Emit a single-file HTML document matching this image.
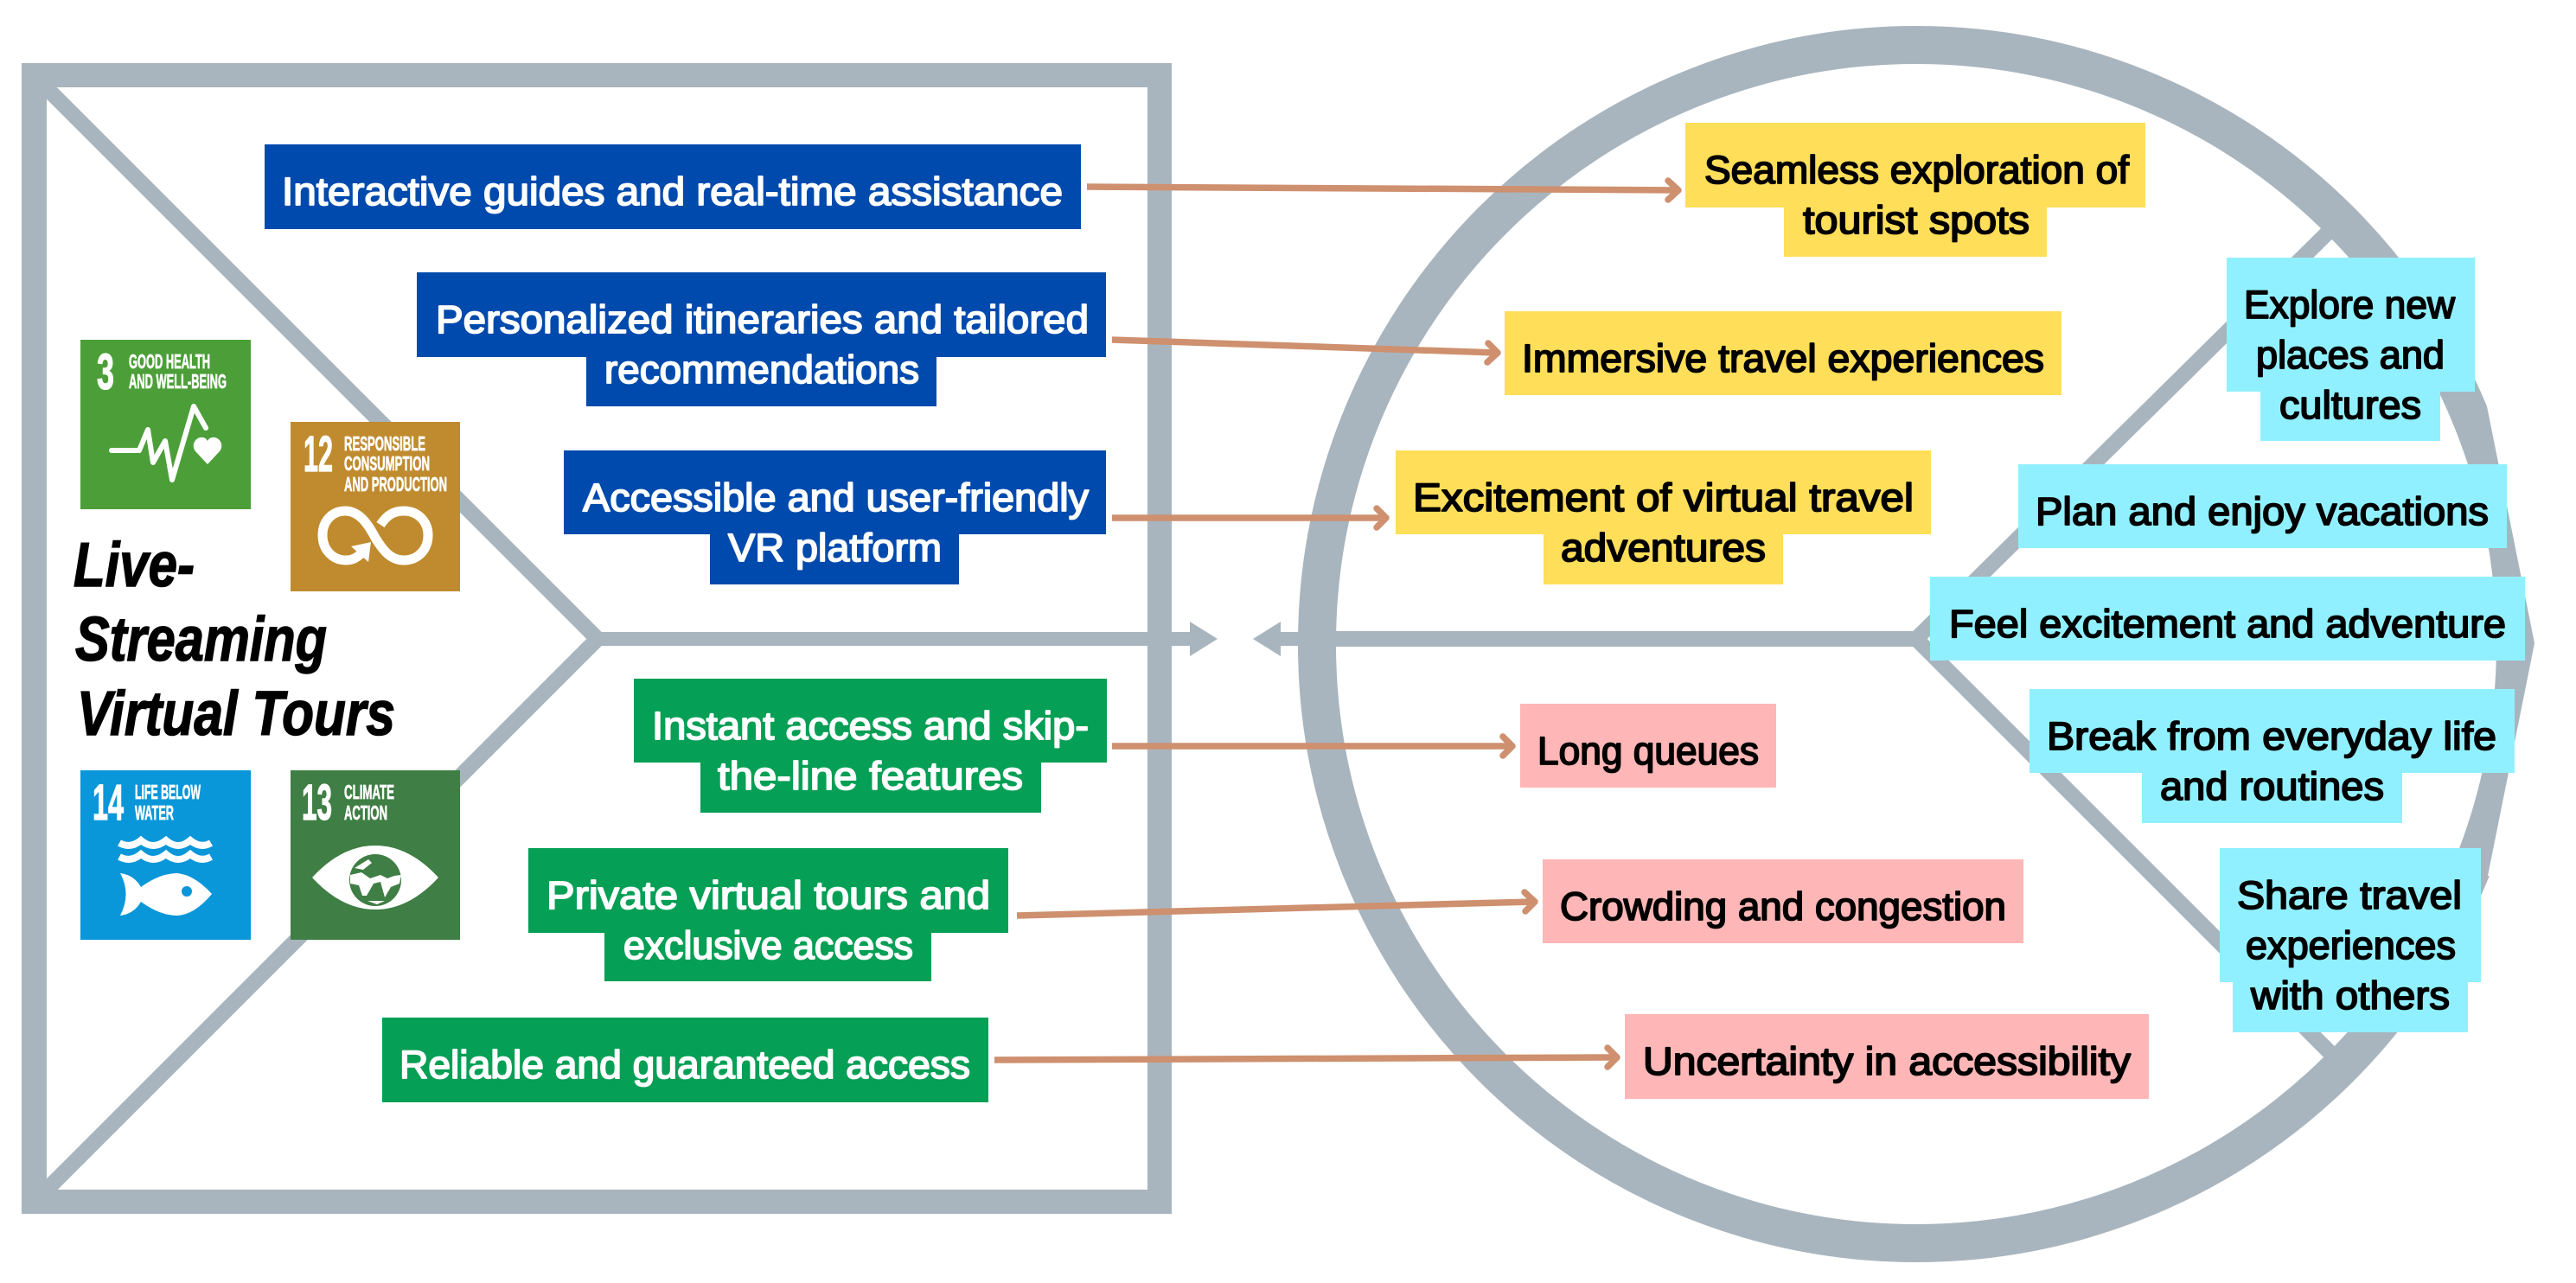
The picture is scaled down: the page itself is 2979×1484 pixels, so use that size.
<!DOCTYPE html>
<html lang="en">
<head>
<meta charset="utf-8">
<title>Live-Streaming Virtual Tours</title>
<style>
html,body{margin:0;padding:0;background:#fff;width:2979px;height:1484px;overflow:hidden}
svg{display:block;position:absolute;left:0;top:0}
.t{font-family:"Liberation Sans",sans-serif;font-size:45px;stroke-width:1.8px;stroke-linejoin:round}
.w{fill:#fff;stroke:#fff}
.k{fill:#000;stroke:#000}
.ti{font-family:"Liberation Sans",sans-serif;font-weight:bold;font-style:italic;font-size:72px;fill:#000;stroke:#000;stroke-width:1.5px}
.n{font-family:"Liberation Sans",sans-serif;font-weight:bold;font-size:58px;fill:#fff;stroke:#fff;stroke-width:1.2px}
.s{font-family:"Liberation Sans",sans-serif;font-weight:bold;font-size:23px;fill:#fff;stroke:#fff;stroke-width:.7px}
</style>
</head>
<body>
<svg xmlns="http://www.w3.org/2000/svg" width="2979" height="1484" viewBox="0 0 2979 1484">
<rect width="2979" height="1484" fill="#fff"/>

<!-- left frame -->
<path d="M25 73H1355V1404H25Z M54 101V1376H1327V101Z" fill="#A8B5BE" fill-rule="evenodd"/>
<polyline points="47,95 691,739 49,1381" fill="none" stroke="#A8B5BE" stroke-width="18" stroke-miterlimit="10"/>
<rect x="691" y="731" width="690" height="16" fill="#A8B5BE"/>
<polygon points="1376,719 1408,739 1376,759" fill="#A8B5BE"/>

<!-- right circle -->
<circle cx="2216" cy="745" r="693" fill="none" stroke="#A8B5BE" stroke-width="44"/>
<polygon points="2876,470 2931,744 2877,1013 2979,1013 2979,470" fill="#fff"/>
<polyline points="2698,263 2216,739 2700,1223" fill="none" stroke="#A8B5BE" stroke-width="18" stroke-miterlimit="10"/>
<rect x="1545" y="730" width="675" height="18" fill="#A8B5BE"/>
<rect x="1475" y="731" width="30" height="16" fill="#A8B5BE"/>
<polygon points="1481,719 1449,739 1481,759" fill="#A8B5BE"/>

<!-- SDG 3 -->
<rect x="93" y="393" width="197" height="196" fill="#4C9F38"/>
<text class="n" x="112" y="450" textLength="20" lengthAdjust="spacingAndGlyphs">3</text>
<text class="s" x="149" y="426" textLength="94" lengthAdjust="spacingAndGlyphs">GOOD HEALTH</text>
<text class="s" x="149" y="449" textLength="113" lengthAdjust="spacingAndGlyphs">AND WELL-BEING</text>
<polyline points="129,521 161,521 171,497 177,535 191,510 199,555 224,470 238,495" fill="none" stroke="#fff" stroke-width="6" stroke-linecap="round" stroke-linejoin="round"/>
<path d="M240 537 L226 522 C220 514 227 505 234 506 C237 506 239 508 240 510 C241 508 243 506 246 506 C253 505 260 514 254 522Z" fill="#fff"/>

<!-- SDG 12 -->
<rect x="336" y="488" width="196" height="196" fill="#BF8B2E"/>
<text class="n" x="351" y="545" textLength="34" lengthAdjust="spacingAndGlyphs">12</text>
<text class="s" x="398" y="521" textLength="94" lengthAdjust="spacingAndGlyphs">RESPONSIBLE</text>
<text class="s" x="398" y="544" textLength="99" lengthAdjust="spacingAndGlyphs">CONSUMPTION</text>
<text class="s" x="398" y="568" textLength="119" lengthAdjust="spacingAndGlyphs">AND PRODUCTION</text>
<path d="M440 607 C448 595 456 591 467 591 C483 591 495 603 495 619 C495 636 483 648 467 648 C452 648 443 637 434 622 C425 605 415 591 399 591 C384 591 373 603 373 619 C373 636 385 648 400 648 C408 648 413 645 420 638" fill="none" stroke="#fff" stroke-width="11"/>
<polygon points="406,632 429,627 426,650" fill="#fff"/>

<!-- SDG 14 -->
<rect x="93" y="891" width="197" height="196" fill="#0A97D9"/>
<text class="n" x="107" y="948" textLength="36" lengthAdjust="spacingAndGlyphs">14</text>
<text class="s" x="156" y="924" textLength="76" lengthAdjust="spacingAndGlyphs">LIFE BELOW</text>
<text class="s" x="156" y="948" textLength="45" lengthAdjust="spacingAndGlyphs">WATER</text>
<path d="M138 975 Q151 982 163 972 Q177 984 192 972 Q206 984 220 972 Q232 982 244 975 M138 991 Q151 998 163 988 Q177 1000 192 988 Q206 1000 220 988 Q232 998 244 991" fill="none" stroke="#fff" stroke-width="8"/>
<path d="M139 1010 Q155 1012 163 1026 Q185 1010 205 1010 Q225 1012 245 1034 Q225 1058 205 1059 Q185 1059 163 1043 Q155 1057 139 1059 Q152 1034 139 1010Z" fill="#fff"/>
<circle cx="216" cy="1031" r="6" fill="#0A97D9"/>

<!-- SDG 13 -->
<rect x="336" y="891" width="196" height="196" fill="#3F7E44"/>
<text class="n" x="349" y="948" textLength="35" lengthAdjust="spacingAndGlyphs">13</text>
<text class="s" x="398" y="924" textLength="58" lengthAdjust="spacingAndGlyphs">CLIMATE</text>
<text class="s" x="398" y="948" textLength="50" lengthAdjust="spacingAndGlyphs">ACTION</text>
<path d="M361 1015 Q395 978 434 978 Q473 978 507 1015 Q473 1052 434 1052 Q395 1052 361 1015Z" fill="#fff"/>
<circle cx="434" cy="1018" r="30" fill="#3F7E44"/>
<path d="M405 1012 L418 1009 L428 1016 L440 1012 L448 1016 L456 1013 L464 1012 L462 1022 L452 1026 L445 1038 L440 1020 L432 1022 L424 1036 L419 1036 L415 1024 L405 1022Z M410 1004 L426 994 L430 998 L420 1006Z M425 1042 L445 1042 L436 1046Z" fill="#fff"/>
<path d="M448 1032 L458 1024 L456 1034 L450 1037Z" fill="#3F7E44"/>

<!-- title -->
<text class="ti" x="85" y="678" textLength="140" lengthAdjust="spacingAndGlyphs">Live-</text>
<text class="ti" x="87" y="764" textLength="291" lengthAdjust="spacingAndGlyphs">Streaming</text>
<text class="ti" x="89" y="850" textLength="368" lengthAdjust="spacingAndGlyphs">Virtual Tours</text>

<!-- boxes -->
<g fill="#004AAD">
<rect x="306" y="167" width="944" height="98"/>
<rect x="482" y="315" width="797" height="98"/>
<rect x="678" y="373" width="405" height="97"/>
<rect x="652" y="521" width="627" height="97"/>
<rect x="821" y="579" width="288" height="97"/>
</g>
<g fill="#059F55">
<rect x="733" y="785" width="547" height="97"/>
<rect x="810" y="843" width="394" height="97"/>
<rect x="611" y="981" width="555" height="98"/>
<rect x="699" y="1039" width="378" height="96"/>
<rect x="442" y="1177" width="701" height="98"/>
</g>
<g fill="#FFDE59">
<rect x="1949" y="142" width="532" height="98"/>
<rect x="2063" y="200" width="304" height="97"/>
<rect x="1740" y="360" width="644" height="97"/>
<rect x="1614" y="521" width="619" height="97"/>
<rect x="1785" y="579" width="277" height="97"/>
</g>
<g fill="#FEB6B6">
<rect x="1758" y="814" width="296" height="97"/>
<rect x="1784" y="994" width="556" height="97"/>
<rect x="1879" y="1173" width="606" height="98"/>
</g>
<g fill="#91F0FF">
<rect x="2575" y="298" width="287" height="155"/>
<rect x="2614" y="413" width="208" height="97"/>
<rect x="2334" y="537" width="565" height="97"/>
<rect x="2232" y="667" width="688" height="97"/>
<rect x="2347" y="797" width="561" height="97"/>
<rect x="2477" y="855" width="301" height="97"/>
<rect x="2567" y="981" width="302" height="155"/>
<rect x="2582" y="1097" width="272" height="97"/>
</g>

<!-- connectors -->
<g fill="none" stroke="#CE906E" stroke-width="7.5" stroke-linecap="butt" stroke-linejoin="round">
<path d="M1257 216L1940 220"/><path d="M1286 393L1731 408"/><path d="M1286 599L1602 599"/>
<path d="M1286 863L1748 863"/><path d="M1176 1059L1774 1043"/><path d="M1150 1226L1869 1223"/>
</g>
<g fill="none" stroke="#CE906E" stroke-width="7.5" stroke-linecap="round" stroke-linejoin="round">
<polyline points="1929,209 1941,220 1929,231"/>
<polyline points="1721,397 1732,408 1720,419"/>
<polyline points="1592,588 1603,599 1592,610"/>
<polyline points="1738,852 1749,863 1738,874"/>
<polyline points="1763,1032 1775,1043 1764,1054"/>
<polyline points="1859,1212 1870,1223 1859,1234"/>
</g>

<!-- white labels -->
<text class="t w" x="326" y="237" textLength="903" lengthAdjust="spacingAndGlyphs">Interactive guides and real-time assistance</text>
<text class="t w" x="504" y="385" textLength="755" lengthAdjust="spacingAndGlyphs">Personalized itineraries and tailored</text>
<text class="t w" x="699" y="443" textLength="364" lengthAdjust="spacingAndGlyphs">recommendations</text>
<text class="t w" x="674" y="591" textLength="585" lengthAdjust="spacingAndGlyphs">Accessible and user-friendly</text>
<text class="t w" x="842" y="649" textLength="247" lengthAdjust="spacingAndGlyphs">VR platform</text>
<text class="t w" x="754" y="855" textLength="505" lengthAdjust="spacingAndGlyphs">Instant access and skip-</text>
<text class="t w" x="830" y="913" textLength="353" lengthAdjust="spacingAndGlyphs">the-line features</text>
<text class="t w" x="632" y="1051" textLength="513" lengthAdjust="spacingAndGlyphs">Private virtual tours and</text>
<text class="t w" x="721" y="1109" textLength="335" lengthAdjust="spacingAndGlyphs">exclusive access</text>
<text class="t w" x="462" y="1247" textLength="660" lengthAdjust="spacingAndGlyphs">Reliable and guaranteed access</text>

<!-- black labels -->
<text class="t k" x="1971" y="212" textLength="491" lengthAdjust="spacingAndGlyphs">Seamless exploration of</text>
<text class="t k" x="2085" y="270" textLength="262" lengthAdjust="spacingAndGlyphs">tourist spots</text>
<text class="t k" x="1760" y="430" textLength="604" lengthAdjust="spacingAndGlyphs">Immersive travel experiences</text>
<text class="t k" x="1634" y="591" textLength="579" lengthAdjust="spacingAndGlyphs">Excitement of virtual travel</text>
<text class="t k" x="1805" y="649" textLength="237" lengthAdjust="spacingAndGlyphs">adventures</text>
<text class="t k" x="1778" y="884" textLength="256" lengthAdjust="spacingAndGlyphs">Long queues</text>
<text class="t k" x="1804" y="1064" textLength="516" lengthAdjust="spacingAndGlyphs">Crowding and congestion</text>
<text class="t k" x="1900" y="1243" textLength="564" lengthAdjust="spacingAndGlyphs">Uncertainty in accessibility</text>
<text class="t k" x="2595" y="368" textLength="244" lengthAdjust="spacingAndGlyphs">Explore new</text>
<text class="t k" x="2609" y="426" textLength="218" lengthAdjust="spacingAndGlyphs">places and</text>
<text class="t k" x="2636" y="484" textLength="164" lengthAdjust="spacingAndGlyphs">cultures</text>
<text class="t k" x="2354" y="607" textLength="524" lengthAdjust="spacingAndGlyphs">Plan and enjoy vacations</text>
<text class="t k" x="2254" y="737" textLength="644" lengthAdjust="spacingAndGlyphs">Feel excitement and adventure</text>
<text class="t k" x="2367" y="867" textLength="520" lengthAdjust="spacingAndGlyphs">Break from everyday life</text>
<text class="t k" x="2498" y="925" textLength="259" lengthAdjust="spacingAndGlyphs">and routines</text>
<text class="t k" x="2587" y="1051" textLength="260" lengthAdjust="spacingAndGlyphs">Share travel</text>
<text class="t k" x="2597" y="1109" textLength="243" lengthAdjust="spacingAndGlyphs">experiences</text>
<text class="t k" x="2603" y="1167" textLength="230" lengthAdjust="spacingAndGlyphs">with others</text>
</svg>
</body>
</html>
